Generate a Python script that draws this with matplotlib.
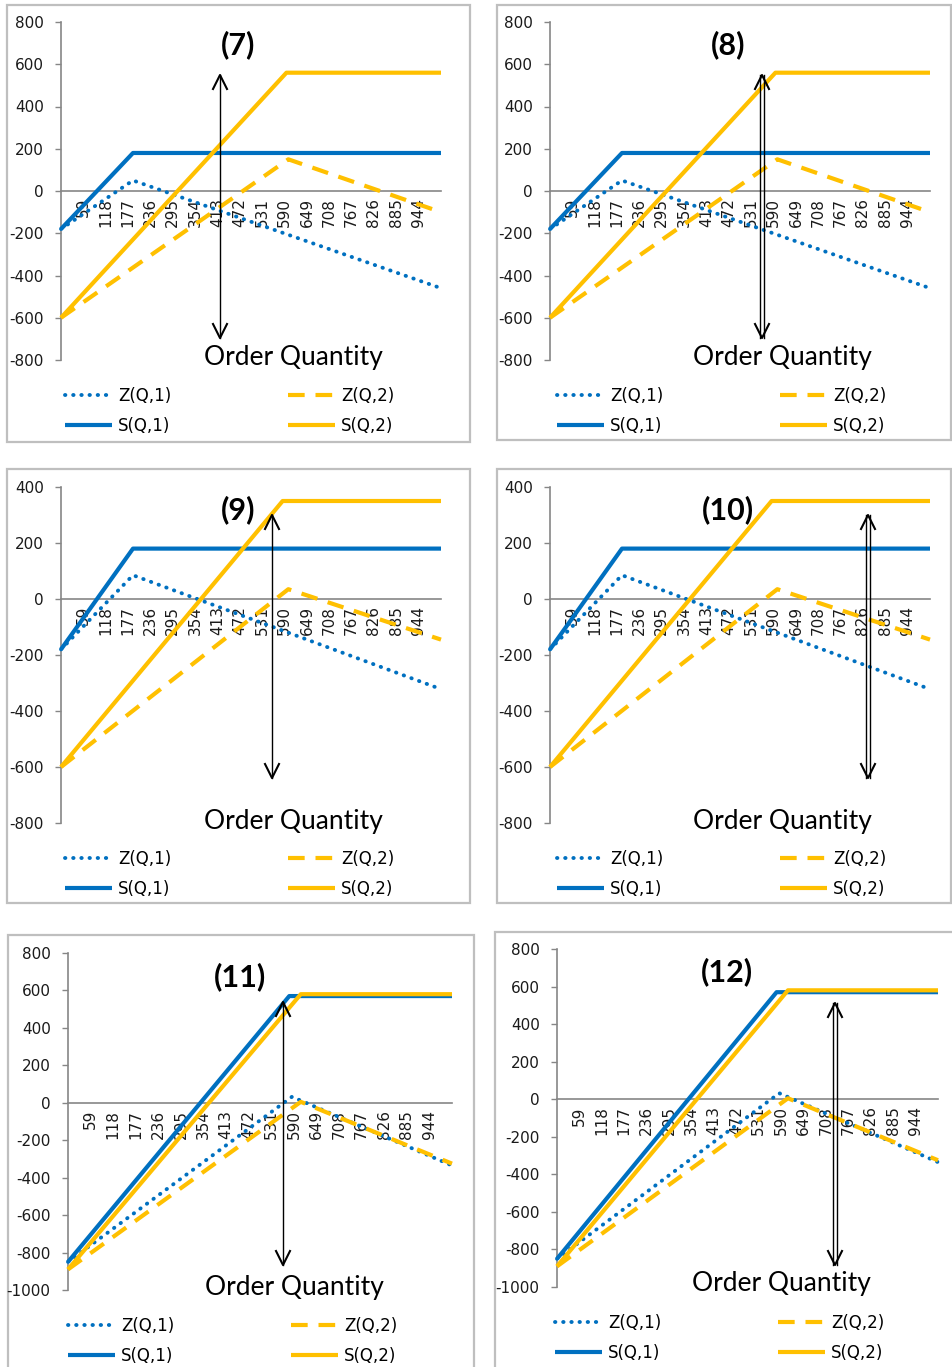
import matplotlib.pyplot as plt
from matplotlib.lines import Line2D
from matplotlib.patches import Rectangle

plt.rcParams['axes.unicode_minus'] = False

W, H = 953, 1367

# category labels shown on the order-quantity axis
q_ticks = [59, 118, 177, 236, 295, 354, 413, 472, 531, 590, 649, 708, 767, 826, 885, 944]
q_max = 1003

# case A: panels (7) and (8)
z1_q_a = [0, 190, 1003]
z1_a = [-180, 50, -460]
s1_q_a = [0, 190, 1003]
s1_a = [-180, 180, 180]
z2_q_a = [0, 600, 1003]
z2_a = [-600, 150, -100]
s2_q_a = [0, 595, 1003]
s2_a = [-600, 560, 560]

# case B: panels (9) and (10)
z1_q_b = [0, 190, 1003]
z1_b = [-180, 85, -322]
s1_q_b = [0, 190, 1003]
s1_b = [-180, 180, 180]
z2_q_b = [0, 600, 1003]
z2_b = [-600, 35, -145]
s2_q_b = [0, 585, 1003]
s2_b = [-600, 350, 350]

# case C: panels (11) and (12)
z1_q_c = [0, 585, 1003]
z1_c = [-850, 32, -335]
s1_q_c = [0, 578, 1003]
s1_c = [-850, 570, 570]
z2_q_c = [0, 608, 1003]
z2_c = [-890, 5, -325]
s2_q_c = [0, 608, 1003]
s2_c = [-890, 580, 580]

cases = {
    'a': [(z1_q_a, z1_a), (z2_q_a, z2_a), (s1_q_a, s1_a), (s2_q_a, s2_a)],
    'b': [(z1_q_b, z1_b), (z2_q_b, z2_b), (s1_q_b, s1_b), (s2_q_b, s2_b)],
    'c': [(z1_q_c, z1_c), (z2_q_c, z2_c), (s1_q_c, s1_c), (s2_q_c, s2_c)],
}

labels = ['Z(Q,1)', 'Z(Q,2)', 'S(Q,1)', 'S(Q,2)']
blue = '#0070C0'
gold = '#FFC000'
styles = [
    dict(color=blue, lw=2.8, linestyle=(0, (0.1, 2.0)), dash_capstyle='round'),
    dict(color=gold, lw=3.0, linestyle=(0, (4, 2.6))),
    dict(color=blue, lw=3.0, solid_capstyle='butt', solid_joinstyle='round'),
    dict(color=gold, lw=3.0, solid_capstyle='butt', solid_joinstyle='round'),
]

# panel layout in pixels: title, case, plot box (x0, x1, ytop, ybot), ylim,
# frame (x0, y0, x1, y1), title xy, axis-title xy, legend xy, arrow (x, top, bottom, hollow)
panels = [
    ('(7)', 'a', (61, 441, 22, 360), (-800, 800), (7, 5, 470, 442),
     (238, 45), (293, 357), (65, 395), (220, 75, 338, False)),
    ('(8)', 'a', (550, 930, 22, 360), (-800, 800), (497, 5, 951, 440),
     (728, 45), (782, 357), (557, 395), (762, 75, 338, True)),
    ('(9)', 'b', (61, 441, 487, 823), (-800, 400), (7, 469, 470, 903),
     (238, 510), (293, 821), (65, 858), (272, 515, 778, False)),
    ('(10)', 'b', (550, 930, 487, 823), (-800, 400), (497, 469, 951, 903),
     (728, 510), (782, 821), (557, 858), (868, 515, 778, True)),
    ('(11)', 'c', (68, 452, 953, 1290), (-1000, 800), (8, 935, 474, 1390),
     (240, 977), (294, 1287), (68, 1325), (283, 1002, 1265, False)),
    ('(12)', 'c', (557, 938, 949, 1287), (-1000, 800), (495, 932, 975, 1390),
     (727, 972), (781, 1284), (555, 1322), (835, 1003, 1265, True)),
]


def fx(v):
    return v / W


def fy(v):
    return 1 - v / H


def draw_arrow(fig, x, top, bot, hollow):
    shafts = [x - 1.6, x + 1.6] if hollow else [x]
    for sx in shafts:
        fig.add_artist(Line2D([fx(sx), fx(sx)], [fy(top), fy(bot)],
                              color='black', lw=1.0))
    for tip, d in ((top, 1), (bot, -1)):
        fig.add_artist(Line2D([fx(x - 7), fx(x), fx(x + 7)],
                              [fy(tip + d * 14), fy(tip), fy(tip + d * 14)],
                              color='black', lw=1.5))


fig = plt.figure(figsize=(W / 100, H / 100), dpi=100)
axis_gray = '#868686'

for title, case, box, ylim, frame, tpos, opos, lpos, arr in panels:
    fx0, fy0, fx1, fy1 = frame
    fig.add_artist(Rectangle((fx(fx0), fy(fy1)), (fx1 - fx0) / W, (fy1 - fy0) / H,
                             transform=fig.transFigure, fill=False,
                             edgecolor='#BFBFBF', lw=1.6, zorder=0))

    x0, x1, yt, yb = box
    ax = fig.add_axes([fx(x0), fy(yb), (x1 - x0) / W, (yb - yt) / H])
    ax.set_facecolor('none')
    ax.spines['top'].set_visible(False)
    ax.spines['right'].set_visible(False)
    ax.spines['bottom'].set_position(('data', 0))
    for sp in ('left', 'bottom'):
        ax.spines[sp].set_color(axis_gray)
        ax.spines[sp].set_linewidth(1.2)

    handles = []
    for (q, v), st, lab in zip(cases[case], styles, labels):
        ln, = ax.plot(q, v, label=lab, zorder=3, clip_on=False, **st)
        handles.append(ln)

    ax.set_xlim(0, q_max)
    ax.set_ylim(*ylim)
    ax.set_yticks(range(ylim[0], ylim[1] + 1, 200))
    ax.set_xticks(q_ticks)
    ax.set_xticklabels([str(t) for t in q_ticks])
    ax.tick_params(axis='x', length=0, pad=5, labelrotation=90,
                   labelsize=11, labelcolor='#1a1a1a')
    ax.tick_params(axis='y', length=4.5, width=1.0, color=axis_gray,
                   labelsize=11, labelcolor='#1a1a1a', pad=8)

    fig.text(fx(tpos[0]), fy(tpos[1]), title, fontsize=22, fontweight='bold',
             family='Lato', ha='center', va='center')
    fig.text(fx(opos[0]), fy(opos[1]), 'Order Quantity', fontsize=19,
             family='Lato', ha='center', va='center')

    lx, ly = lpos
    for col, idx in enumerate([(0, 2), (1, 3)]):
        leg = ax.legend([handles[i] for i in idx], [labels[i] for i in idx],
                        loc='upper left',
                        bbox_to_anchor=(fx(lx + col * 223), fy(ly - 8)),
                        bbox_transform=fig.transFigure, frameon=False,
                        fontsize=12, handlelength=2.8, handletextpad=0.4,
                        labelspacing=0.7, borderpad=0, borderaxespad=0)
        if col == 0:
            ax.add_artist(leg)

    draw_arrow(fig, *arr)

fig.savefig('out.png', dpi=100, facecolor='white')
